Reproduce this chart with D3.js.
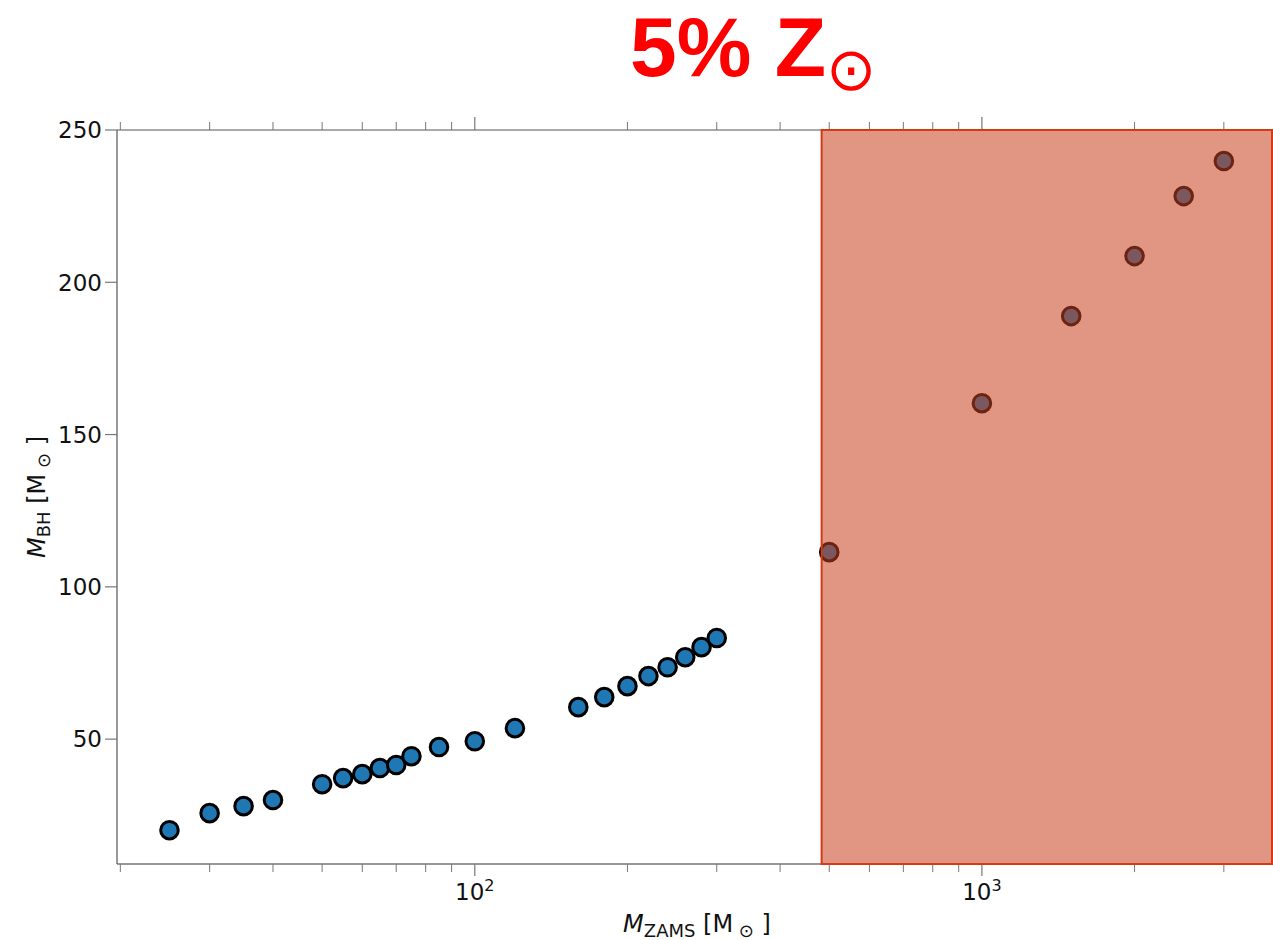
<!DOCTYPE html>
<html>
<head>
<meta charset="utf-8">
<script src="https://cdn.jsdelivr.net/npm/d3@7"></script>
<style>
  html, body { margin: 0; padding: 0; background: #fff; }
  svg { display: block; }
  text { font-family: "DejaVu Sans", sans-serif; }
</style>
</head>
<body>
<svg id="chart" width="1273" height="940"></svg>
<script>
// Zero-age main-sequence mass vs. final black-hole mass at 5% solar metallicity
const mZams = [25, 30, 35, 40, 50, 55, 60, 65, 70, 75, 85, 100, 120, 160, 180, 200, 220, 240, 260, 280, 300,
               500, 1000, 1500, 2000, 2500, 3000];
const mBH   = [20.1, 25.7, 28.0, 30.0, 35.2, 37.2, 38.5, 40.5, 41.5, 44.4, 47.4, 49.3, 53.6, 60.5, 63.8, 67.4,
               70.7, 73.6, 76.9, 80.2, 83.2, 111.4, 160.3, 188.9, 208.6, 228.3, 239.8];
const yTicks = [50, 100, 150, 200, 250];
const xMajorTicks = [100, 1000];
const xMajorLabels = ["2", "3"];           // exponents of 10
const xMinorTicks = [20, 30, 40, 50, 60, 70, 80, 90, 200, 300, 400, 500, 600, 700, 800, 900, 2000, 3000];
const shadedRange = [483, 3750];           // highlighted mass range
const xDomain = [19.7, 3750];
const yDomain = [9, 250];

const svg = d3.select("#chart");
const L = 117, R = 1273, T = 130, B = 864;

const x = d3.scaleLog().domain(xDomain).range([L, R]);
const y = d3.scaleLinear().domain(yDomain).range([B, T]);

const spineColor = "#555";
const tickColor = "#777";

// Spines
svg.append("line").attr("x1", L).attr("x2", R).attr("y1", B).attr("y2", B)
  .attr("stroke", "#333").attr("stroke-width", 1.2);
svg.append("line").attr("x1", L).attr("x2", R).attr("y1", T).attr("y2", T)
  .attr("stroke", spineColor).attr("stroke-width", 1);
svg.append("line").attr("x1", L).attr("x2", L).attr("y1", T).attr("y2", B)
  .attr("stroke", spineColor).attr("stroke-width", 1.2);

// X ticks (bottom & top, outward)
const xt = svg.append("g");
xMinorTicks.forEach(v => {
  xt.append("line").attr("x1", x(v)).attr("x2", x(v)).attr("y1", B).attr("y2", B + 8)
    .attr("stroke", tickColor).attr("stroke-width", 1);
  xt.append("line").attr("x1", x(v)).attr("x2", x(v)).attr("y1", T).attr("y2", T - 8)
    .attr("stroke", tickColor).attr("stroke-width", 1);
});
xMajorTicks.forEach((v, i) => {
  xt.append("line").attr("x1", x(v)).attr("x2", x(v)).attr("y1", B).attr("y2", B + 12)
    .attr("stroke", tickColor).attr("stroke-width", 1.2);
  xt.append("line").attr("x1", x(v)).attr("x2", x(v)).attr("y1", T).attr("y2", T - 13)
    .attr("stroke", tickColor).attr("stroke-width", 1.2);
  const t = xt.append("text").attr("x", x(v)).attr("y", 900)
    .attr("text-anchor", "middle").attr("font-size", 23).attr("fill", "#111");
  t.append("tspan").text("10");
  t.append("tspan").attr("dy", -9).attr("font-size", 16).text(xMajorLabels[i]);
});

// Y ticks (left, outward)
const yt = svg.append("g");
yTicks.forEach(v => {
  yt.append("line").attr("x1", L - 12).attr("x2", L).attr("y1", y(v)).attr("y2", y(v))
    .attr("stroke", tickColor).attr("stroke-width", 1.2);
  yt.append("text").attr("x", L - 15).attr("y", y(v)).attr("dy", "0.36em")
    .attr("text-anchor", "end").attr("font-size", 23).attr("fill", "#111").text(v);
});

// Data points
svg.append("g").selectAll("circle")
  .data(mZams.map((m, i) => ({ m, b: mBH[i] })))
  .join("circle")
  .attr("cx", d => x(d.m))
  .attr("cy", d => y(d.b))
  .attr("r", 8.8)
  .attr("fill", "#1f77b4")
  .attr("stroke", "#000")
  .attr("stroke-width", 3);

// Shaded mass range drawn on top of the points
svg.append("rect")
  .attr("x", x(shadedRange[0]))
  .attr("y", T)
  .attr("width", x(shadedRange[1]) - x(shadedRange[0]) - 1)
  .attr("height", B - T)
  .attr("fill", "rgb(198,64,28)")
  .attr("fill-opacity", 0.55)
  .attr("stroke", "#d63a12")
  .attr("stroke-width", 2);

// Axis labels
const xl = svg.append("text").attr("x", 697).attr("y", 932).attr("text-anchor", "middle")
  .attr("font-size", 24).attr("fill", "#111");
xl.append("tspan").attr("font-style", "italic").text("M");
xl.append("tspan").attr("dy", 5).attr("font-size", 18).text("ZAMS");
xl.append("tspan").attr("dy", -5).text(" [M");
xl.append("tspan").attr("dy", 5).attr("font-size", 18).text(" ⊙");
xl.append("tspan").attr("dy", -5).text(" ]");

const yl = svg.append("text").attr("transform", "translate(45,497) rotate(-90)")
  .attr("text-anchor", "middle").attr("font-size", 24).attr("fill", "#111");
yl.append("tspan").attr("font-style", "italic").text("M");
yl.append("tspan").attr("dy", 5).attr("font-size", 18).text("BH");
yl.append("tspan").attr("dy", -5).text(" [M");
yl.append("tspan").attr("dy", 5).attr("font-size", 18).text(" ⊙");
yl.append("tspan").attr("dy", -5).text(" ]");

// Title
const title = svg.append("text").attr("x", 630).attr("y", 76).attr("fill", "#ff0000");
title.append("tspan").attr("font-family", "'Liberation Sans', Arial, sans-serif")
  .attr("font-weight", "bold").attr("font-size", 84).text("5% Z");
title.append("tspan").attr("font-family", "'DejaVu Sans', sans-serif")
  .attr("font-size", 60).attr("dy", 14).attr("dx", 0).text("⊙");
</script>
</body>
</html>
